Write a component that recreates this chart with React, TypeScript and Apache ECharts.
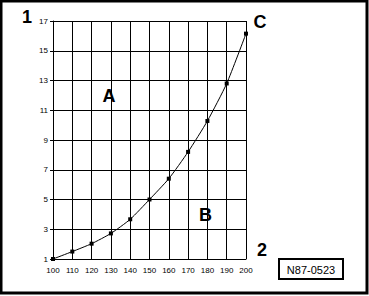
import React, { useEffect, useRef } from "react";
import * as echarts from "echarts";

const xValues = [100, 110, 120, 130, 140, 150, 160, 170, 180, 190, 200];
const yValues = [1.0, 1.5, 2.03, 2.72, 3.67, 5.0, 6.4, 8.2, 10.28, 12.8, 16.15];
const yTicks = [1, 3, 5, 7, 9, 11, 13, 15, 17];

const FONT = "'Liberation Sans', Arial, sans-serif";

export default function App() {
  const ref = useRef<HTMLDivElement>(null);
  useEffect(() => {
    document.body.style.margin = "0";
    const chart = echarts.init(ref.current!, null, { renderer: "svg" });
    const big = (text: string, x: number, y: number) => ({
      type: "text",
      x,
      y,
      style: {
        text,
        font: `bold 18px ${FONT}`,
        fill: "#000",
        align: "center",
        verticalAlign: "middle",
      },
    });
    chart.setOption({
      animation: false,
      backgroundColor: "#fff",
      grid: { left: 53, right: 123, top: 21, bottom: 37 },
      xAxis: {
        type: "value",
        min: 100,
        max: 200,
        interval: 10,
        axisLine: { show: true, lineStyle: { color: "#000", width: 1 } },
        axisTick: { show: false },
        axisLabel: { color: "#000", fontSize: 8, fontFamily: FONT, margin: 7 },
        splitLine: { show: true, lineStyle: { color: "#000", width: 1 } },
      },
      yAxis: {
        type: "value",
        min: 1,
        max: 17,
        axisLine: { show: true, lineStyle: { color: "#000", width: 1 } },
        axisTick: { show: true, length: 3, customValues: yTicks, lineStyle: { color: "#000" } },
        axisLabel: { color: "#000", fontSize: 8, fontFamily: FONT, margin: 5, customValues: yTicks },
        splitLine: { show: true, lineStyle: { color: "#000", width: 1 } },
      },
      series: [
        {
          type: "line",
          data: xValues.map((x, i) => [x, yValues[i]]),
          smooth: 0.2,
          symbol: "rect",
          symbolSize: 4,
          showSymbol: true,
          itemStyle: { color: "#000" },
          lineStyle: { color: "#000", width: 1 },
        },
      ],
      graphic: [
        {
          type: "rect",
          shape: { x: 1, y: 1, width: 366, height: 292 },
          style: { fill: "none", stroke: "#000", lineWidth: 3 },
        },
        {
          type: "rect",
          shape: { x: 279, y: 259, width: 64, height: 20 },
          style: { fill: "#fff", stroke: "#000", lineWidth: 2 },
        },
        {
          type: "text",
          x: 311,
          y: 269.5,
          style: {
            text: "N87-0523",
            font: `11px ${FONT}`,
            fill: "#000",
            align: "center",
            verticalAlign: "middle",
          },
        },
        big("1", 27, 17),
        big("C", 260, 22),
        big("A", 109, 96),
        big("B", 205.5, 214.5),
        big("2", 262, 250),
      ],
    });
    return () => chart.dispose();
  }, []);
  return <div ref={ref} style={{ width: 369, height: 296 }} />;
}
